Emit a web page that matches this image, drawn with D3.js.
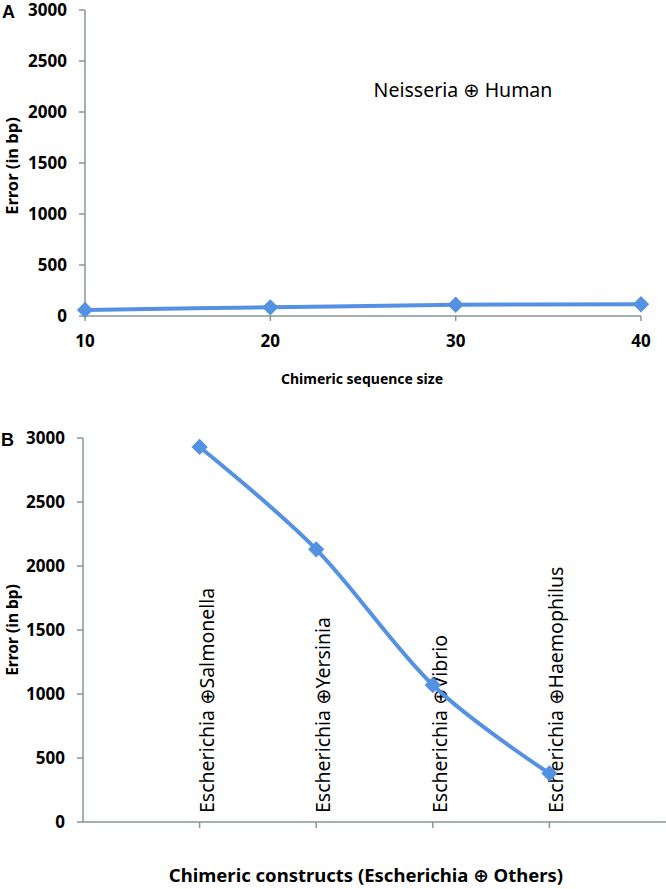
<!DOCTYPE html>
<html>
<head>
<meta charset="utf-8">
<script src="https://cdn.jsdelivr.net/npm/d3@7"></script>
<style>
  body { margin: 0; background: #fff; }
  svg text { font-family: "Noto Sans", "DejaVu Sans", sans-serif; fill: #000; }
  .tick-label { font-size: 17px; font-weight: bold; }
  .axis-title { font-weight: bold; }
  .panel-letter { font-family: "Liberation Sans", Arial, sans-serif !important; font-size: 18px; font-weight: bold; }
</style>
</head>
<body>
<script>
// panel A data
const sizesA = [10, 20, 30, 40];
const errorsA = [60, 85, 110, 115];
// panel B data
const constructsB = ["Escherichia \u2295Salmonella", "Escherichia \u2295Yersinia", "Escherichia \u2295Vibrio", "Escherichia \u2295Haemophilus"];
const errorsB = [2930, 2130, 1070, 380];
const yTicks = [0, 500, 1000, 1500, 2000, 2500, 3000];

const BLUE = "#5591e3";
const AXIS = "#8a9696";

const W = 666, H = 889;
const svg = d3.select("body").append("svg").attr("width", W).attr("height", H);

const diamond = d3.symbol().type(d3.symbolDiamond2).size(170);

function yAxisDraw(g, y, x0) {
  g.append("line").attr("x1", x0).attr("x2", x0)
    .attr("y1", y(3000)).attr("y2", y(0))
    .attr("stroke", AXIS).attr("stroke-width", 1.5);
  yTicks.forEach(t => {
    g.append("line").attr("x1", x0 - 6).attr("x2", x0).attr("y1", y(t)).attr("y2", y(t))
      .attr("stroke", AXIS).attr("stroke-width", 1.5);
    g.append("text").attr("class", "tick-label")
      .attr("x", x0 - 18).attr("y", y(t)).attr("dy", "0.36em")
      .attr("text-anchor", "end").text(t);
  });
}

// ---------- Panel A ----------
const xA = d3.scaleLinear().domain([10, 40]).range([85, 641]);
const yA = d3.scaleLinear().domain([0, 3000]).range([316, 10]);
const gA = svg.append("g");

gA.append("line").attr("x1", xA(10)).attr("x2", xA(40)).attr("y1", yA(0)).attr("y2", yA(0))
  .attr("stroke", AXIS).attr("stroke-width", 1.5);
sizesA.forEach(s => {
  gA.append("line").attr("x1", xA(s)).attr("x2", xA(s)).attr("y1", yA(0)).attr("y2", yA(0) + 5)
    .attr("stroke", AXIS).attr("stroke-width", 1.5);
  gA.append("text").attr("class", "tick-label")
    .attr("x", xA(s)).attr("y", 347).attr("text-anchor", "middle").text(s);
});
yAxisDraw(gA, yA, 85);

gA.append("path")
  .datum(sizesA.map((s, i) => [xA(s), yA(errorsA[i])]))
  .attr("d", d3.line().curve(d3.curveCatmullRom.alpha(0)))
  .attr("fill", "none").attr("stroke", BLUE).attr("stroke-width", 4);
gA.selectAll(".mk").data(sizesA).join("path")
  .attr("transform", (s, i) => `translate(${xA(s)},${yA(errorsA[i])})`)
  .attr("d", diamond).attr("fill", BLUE);

gA.append("text").attr("class", "axis-title").attr("x", 362).attr("y", 384)
  .style("font-size", "14px")
  .attr("text-anchor", "middle").text("Chimeric sequence size");
gA.append("text").attr("class", "axis-title")
  .attr("transform", `translate(18,166) rotate(-90)`)
  .style("font-size", "16.5px")
  .attr("text-anchor", "middle").text("Error (in bp)");
gA.append("text").attr("x", 463).attr("y", 97).attr("text-anchor", "middle")
  .style("font-size", "19.5px").text("Neisseria \u2295 Human");
gA.append("text").attr("class", "panel-letter").attr("x", 2).attr("y", 18).text("A");

// ---------- Panel B ----------
const xB = d3.scaleLinear().domain([0, constructsB.length + 1]).range([83, 666]);
const yB = d3.scaleLinear().domain([0, 3000]).range([822, 438]);
const gB = svg.append("g");

gB.append("line").attr("x1", xB(0)).attr("x2", xB(constructsB.length + 1))
  .attr("y1", yB(0)).attr("y2", yB(0)).attr("stroke", AXIS).attr("stroke-width", 1.5);
constructsB.forEach((c, i) => {
  gB.append("line").attr("x1", xB(i + 1)).attr("x2", xB(i + 1)).attr("y1", yB(0)).attr("y2", yB(0) + 6)
    .attr("stroke", AXIS).attr("stroke-width", 1.5);
});
yAxisDraw(gB, yB, 83);

gB.selectAll(".cat").data(constructsB).join("text")
  .attr("transform", (c, i) => `translate(${xB(i + 1) + 14},813) rotate(-90)`)
  .style("font-size", "19.5px").text(c => c);

gB.append("path")
  .datum(constructsB.map((c, i) => [xB(i + 1), yB(errorsB[i])]))
  .attr("d", d3.line().curve(d3.curveCatmullRom.alpha(0)))
  .attr("fill", "none").attr("stroke", BLUE).attr("stroke-width", 4);
gB.selectAll(".mk").data(constructsB).join("path")
  .attr("transform", (c, i) => `translate(${xB(i + 1)},${yB(errorsB[i])})`)
  .attr("d", diamond).attr("fill", BLUE);

gB.append("text").attr("class", "axis-title").attr("x", 366).attr("y", 882)
  .style("font-size", "18.5px")
  .attr("text-anchor", "middle").text("Chimeric constructs (Escherichia \u2295 Others)");
gB.append("text").attr("class", "axis-title")
  .attr("transform", `translate(18,630) rotate(-90)`)
  .style("font-size", "15.5px")
  .attr("text-anchor", "middle").text("Error (in bp)");
gB.append("text").attr("class", "panel-letter").attr("x", 1).attr("y", 446).text("B");
</script>
</body>
</html>
